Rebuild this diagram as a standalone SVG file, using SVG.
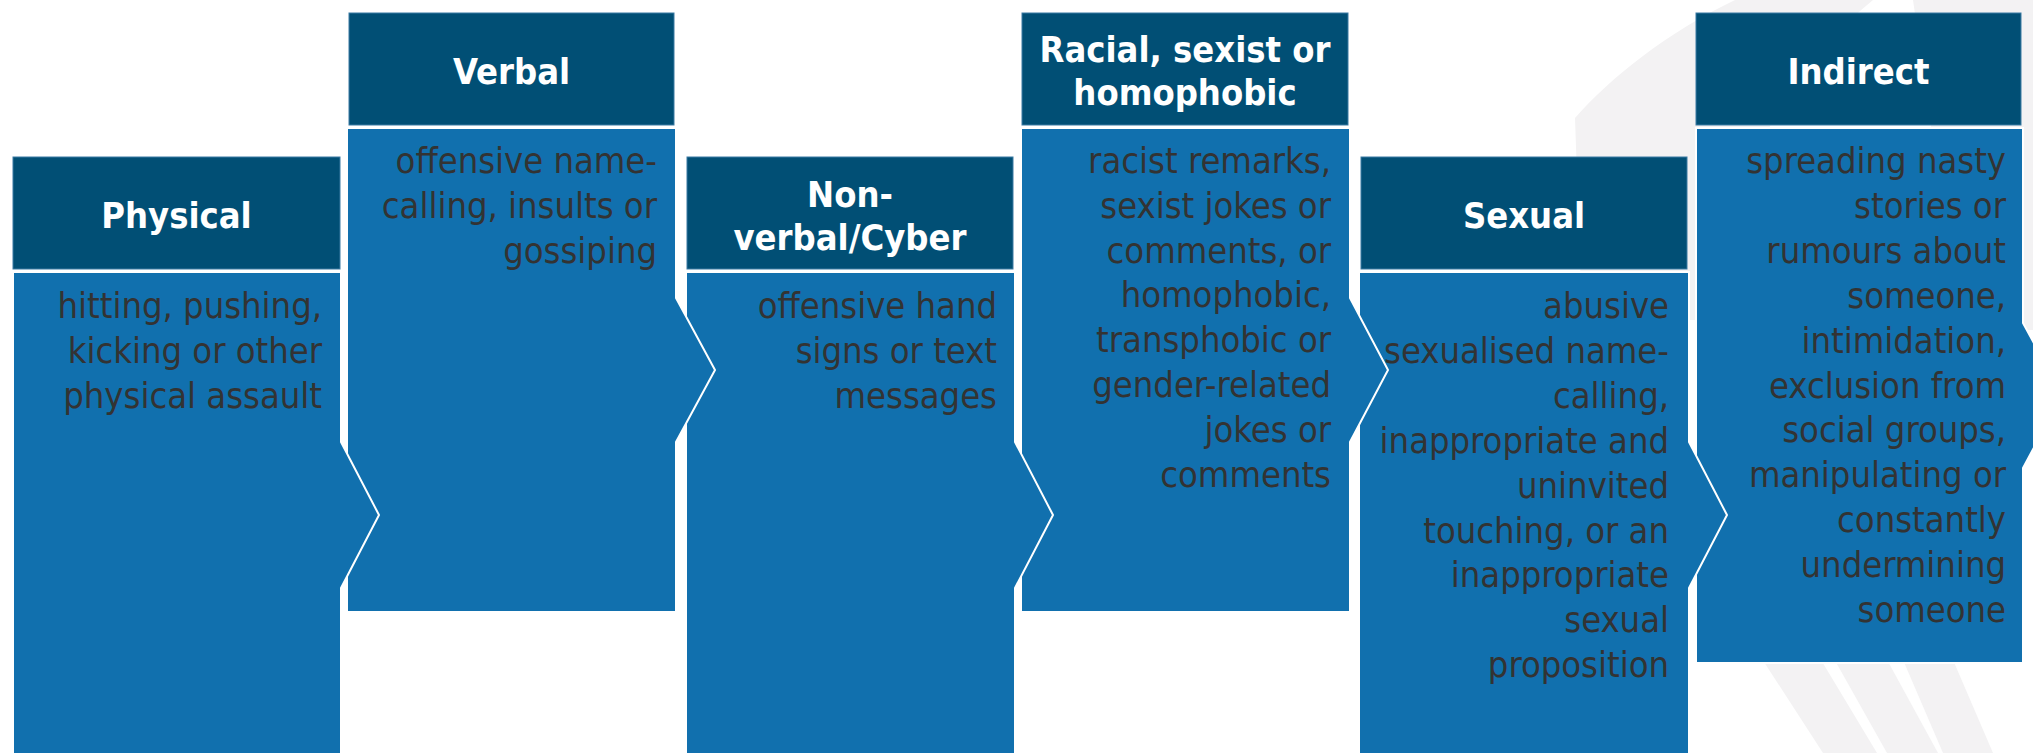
<svg xmlns="http://www.w3.org/2000/svg" width="2033" height="753" viewBox="0 0 2033 753">
  <style>
    .hdr { fill: #014f75; stroke: #3a7aa3; stroke-width: 1; }
    .body { fill: #1170ae; stroke: #ffffff; stroke-width: 2; stroke-linejoin: miter; }
    .ht { font-family: "DejaVu Sans Condensed", "DejaVu Sans", sans-serif; font-stretch: condensed; font-weight: bold; font-size: 36px; fill: #ffffff; text-anchor: middle; }
    .bt { font-family: "DejaVu Sans Condensed", "DejaVu Sans", sans-serif; font-stretch: condensed; font-size: 36px; fill: #333333; text-anchor: end; }
    .swoosh { fill: #f3f2f3; }
  </style>

  <rect width="2033" height="753" fill="#ffffff"/>

  <!-- faint curved emblem behind the right-hand boxes -->
  <g id="backdrop">
    <path class="swoosh" d="M1575,118 C1610,78 1668,32 1735,0 L1873,0 C1800,60 1740,150 1700,320 L1582,320 Z"/>
    <path class="swoosh" d="M1913,0 L2033,0 L2033,330 L1960,330 Z"/>
    <path class="swoosh" d="M1740,625 L1800,625 L1877,753 L1823,753 Z"/>
    <path class="swoosh" d="M1815,625 L1868,625 L1938,753 L1887,753 Z"/>
    <path class="swoosh" d="M1888,625 L1938,625 L1993,753 L1943,753 Z"/>
  </g>

  <!-- later groups sit on top, so each arrow tab overlaps its right neighbour -->
  <g id="node-indirect">
    <rect class="hdr" x="1696" y="13" width="325" height="112"/>
    <path class="body" d="M1696,128 H2023 V323 L2062,395 L2023,468 V663 H1696 Z"/>
    <text class="ht" x="1858.5" y="84">Indirect</text>
    <text class="bt" x="2006" y="173">spreading nasty</text>
    <text class="bt" x="2006" y="217.9">stories or</text>
    <text class="bt" x="2006" y="262.8">rumours about</text>
    <text class="bt" x="2006" y="307.7">someone,</text>
    <text class="bt" x="2006" y="352.6">intimidation,</text>
    <text class="bt" x="2006" y="397.5">exclusion from</text>
    <text class="bt" x="2006" y="442.4">social groups,</text>
    <text class="bt" x="2006" y="487.3">manipulating or</text>
    <text class="bt" x="2006" y="532.2">constantly</text>
    <text class="bt" x="2006" y="577.1">undermining</text>
    <text class="bt" x="2006" y="622">someone</text>
  </g>

  <g id="node-sexual">
    <rect class="hdr" x="1361" y="157" width="326" height="112"/>
    <path class="body" d="M1359,272 H1689 V442 L1727,515 L1689,588 V760 H1359 Z"/>
    <text class="ht" x="1524" y="228">Sexual</text>
    <text class="bt" x="1669" y="318">abusive</text>
    <text class="bt" x="1669" y="362.9">sexualised name-</text>
    <text class="bt" x="1669" y="407.8">calling,</text>
    <text class="bt" x="1669" y="452.7">inappropriate and</text>
    <text class="bt" x="1669" y="497.6">uninvited</text>
    <text class="bt" x="1669" y="542.5">touching, or an</text>
    <text class="bt" x="1669" y="587.4">inappropriate</text>
    <text class="bt" x="1669" y="632.3">sexual</text>
    <text class="bt" x="1669" y="677.2">proposition</text>
  </g>

  <g id="node-racial">
    <rect class="hdr" x="1022" y="13" width="326" height="112"/>
    <path class="body" d="M1021,128 H1350 V298 L1388,370 L1350,442 V612 H1021 Z"/>
    <text class="ht" x="1185" y="61.5">Racial, sexist or</text>
    <text class="ht" x="1185" y="104.5">homophobic</text>
    <text class="bt" x="1331" y="173">racist remarks,</text>
    <text class="bt" x="1331" y="217.8">sexist jokes or</text>
    <text class="bt" x="1331" y="262.6">comments, or</text>
    <text class="bt" x="1331" y="307.4">homophobic,</text>
    <text class="bt" x="1331" y="352.2">transphobic or</text>
    <text class="bt" x="1331" y="397">gender-related</text>
    <text class="bt" x="1331" y="441.8">jokes or</text>
    <text class="bt" x="1331" y="486.6">comments</text>
  </g>

  <g id="node-nonverbal">
    <rect class="hdr" x="687" y="157" width="326" height="112"/>
    <path class="body" d="M686,272 H1015 V442 L1053,515 L1015,588 V760 H686 Z"/>
    <text class="ht" x="850" y="206.5">Non-</text>
    <text class="ht" x="850" y="249.5">verbal/Cyber</text>
    <text class="bt" x="997" y="318">offensive hand</text>
    <text class="bt" x="997" y="362.8">signs or text</text>
    <text class="bt" x="997" y="407.6">messages</text>
  </g>

  <g id="node-verbal">
    <rect class="hdr" x="349" y="13" width="325" height="112"/>
    <path class="body" d="M347,128 H676 V298 L715,370 L676,442 V612 H347 Z"/>
    <text class="ht" x="511.5" y="84">Verbal</text>
    <text class="bt" x="657" y="173">offensive name-</text>
    <text class="bt" x="657" y="217.8">calling, insults or</text>
    <text class="bt" x="657" y="262.6">gossiping</text>
  </g>

  <g id="node-physical">
    <rect class="hdr" x="13" y="157" width="327" height="112"/>
    <path class="body" d="M13,272 H341 V442 L379,515 L341,588 V760 H13 Z"/>
    <text class="ht" x="176.5" y="228">Physical</text>
    <text class="bt" x="322" y="318">hitting, pushing,</text>
    <text class="bt" x="322" y="362.8">kicking or other</text>
    <text class="bt" x="322" y="407.6">physical assault</text>
  </g>
</svg>
